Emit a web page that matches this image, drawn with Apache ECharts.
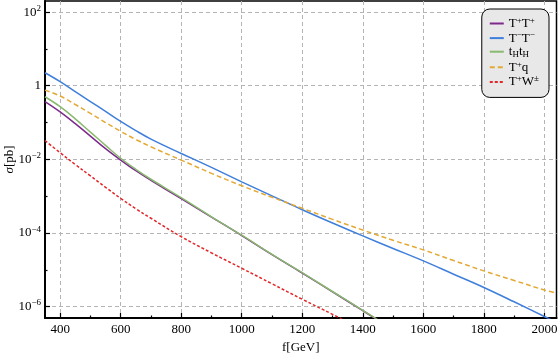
<!DOCTYPE html>
<html>
<head>
<meta charset="utf-8">
<script src="https://cdn.jsdelivr.net/npm/echarts@6/dist/echarts.min.js"></script>
<style>
html, body { margin: 0; padding: 0; background: #fff; }
#chart { width: 560px; height: 355px; }
</style>
</head>
<body>
<div id="chart"></div>
<script>
// masses [GeV]
var massFull = [350, 400, 450, 500, 550, 600, 650, 700, 800, 900, 1000, 1100, 1200, 1300, 1400, 1500, 1600, 1700, 1800, 1900, 2000, 2040];
var massPair = [350, 400, 450, 500, 550, 600, 650, 700, 800, 900, 1000, 1100, 1200, 1300, 1400, 1450];
var massW = [350, 400, 450, 500, 550, 600, 650, 700, 800, 900, 1000, 1100, 1200, 1300, 1350];

// cross sections [pb]
var sigPP = [0.372, 0.195, 0.0933, 0.0427, 0.0195, 0.00955, 0.0049, 0.00269, 8.51e-4, 2.69e-4, 8.51e-5, 2.57e-5, 8.13e-6, 2.51e-6, 7.76e-7, 4.27e-7];
var sigMM = [2.25, 1.29, 0.692, 0.372, 0.200, 0.107, 0.0603, 0.0355, 0.01445, 0.00603, 0.00245, 0.00102, 4.27e-4, 1.86e-4, 8.32e-5, 3.80e-5, 1.74e-5, 7.59e-6, 3.31e-6, 1.35e-6, 5.37e-7, 3.72e-7];
var sigTH = [0.501, 0.269, 0.126, 0.055, 0.024, 0.0107, 0.00537, 0.00288, 9.12e-4, 2.75e-4, 8.71e-5, 2.63e-5, 8.32e-6, 2.57e-6, 7.94e-7, 4.37e-7];
var sigTq = [0.759, 0.525, 0.309, 0.178, 0.100, 0.0575, 0.0347, 0.0219, 0.00955, 0.00417, 0.00191, 9.33e-4, 4.68e-4, 2.34e-4, 1.20e-4, 6.31e-5, 3.47e-5, 1.78e-5, 9.33e-6, 5.13e-6, 2.82e-6, 2.34e-6];
var sigTW = [0.0324, 0.0151, 0.00724, 0.00355, 0.00174, 8.71e-4, 4.57e-4, 2.51e-4, 7.94e-5, 2.88e-5, 1.10e-5, 4.17e-6, 1.58e-6, 6.17e-7, 3.80e-7];

var seriesNames = ['T+T+', 'T-T-', 'tHtH', 'T+q', 'T+W±'];
var legendLabels = [
    '{r|T}{sup|+}{r|T}{sup|+}',
    '{r|T}{sup|\u2212}{r|T}{sup|\u2212}',
    '{r|t}{sub|H}{r|t}{sub|H}',
    '{r|T}{sup|+}{r|q}',
    '{r|T}{sup|+}{r|W}{sup|\u00b1}'
];

var xTicks = [400, 600, 800, 1000, 1200, 1400, 1600, 1800, 2000];
var xMinorTicks = [500, 700, 900, 1100, 1300, 1500, 1700, 1900];
var yTicks = [1e2, 1, 1e-2, 1e-4, 1e-6];
var yMinorTicks = [1e1, 1e-1, 1e-3, 1e-5];

var FONT = 'Liberation Serif';

function pairs(xs, ys) {
    return xs.map(function(x, i) { return [x, ys[i]]; });
}

function powLabel(v) {
    var l = Math.log10(v);
    var e = Math.round(l);
    if (Math.abs(l - e) > 0.01 || e % 2 !== 0) return '';
    if (e === 0) return '{b|1}';
    return '{b|10}{s|' + String(e).replace('-', '\u2212') + '}';
}

var chart = echarts.init(document.getElementById('chart'));

var richSup = {
    r: { fontFamily: FONT, fontSize: 13, lineHeight: 15, color: '#000' },
    sup: { fontFamily: FONT, fontSize: 9, lineHeight: 9, verticalAlign: 'top', color: '#000' },
    sub: { fontFamily: FONT, fontSize: 9, lineHeight: 9, verticalAlign: 'bottom', color: '#000' }
};

function lineSeries(name, xs, ys, color, dash) {
    return {
        name: name,
        type: 'line',
        data: pairs(xs, ys),
        symbol: 'circle',
        showSymbol: false,
        smooth: 0.4,
        lineStyle: { color: color, width: 1.5, type: dash || 'solid' },
        itemStyle: { color: color }
    };
}

var option = {
    animation: false,
    grid: {
        left: 45, right: 3.5, top: 1, bottom: 37,
        outerBoundsMode: 'none',
        containLabel: false,
        show: true, borderColor: '#000', borderWidth: 1.5
    },
    legend: {
        orient: 'vertical',
        right: 11,
        top: 9,
        backgroundColor: '#e8e8e8',
        borderColor: '#000',
        borderWidth: 1,
        borderRadius: 8,
        padding: [7, 10, 9, 7],
        itemWidth: 14,
        itemHeight: 10,
        itemGap: 0.6,
        itemStyle: { opacity: 0 },
        data: seriesNames,
        formatter: function(name) { return legendLabels[seriesNames.indexOf(name)]; },
        textStyle: { fontFamily: FONT, fontSize: 13, color: '#000', rich: richSup }
    },
    xAxis: [{
        type: 'value',
        min: 350,
        max: 2040,
        splitNumber: 8,
        name: 'f[GeV]',
        nameLocation: 'middle',
        nameGap: 23,
        nameMoveOverlap: false,
        nameTextStyle: { fontFamily: FONT, fontSize: 13, color: '#000' },
        axisLine: { lineStyle: { color: '#000', width: 2 } },
        axisTick: { inside: true, length: 5, customValues: xTicks, lineStyle: { color: '#000', width: 1.2 } },
        axisLabel: {
            customValues: xTicks,
            margin: 5,
            fontFamily: FONT, fontSize: 13, color: '#000',
            formatter: function(v) { return v % 200 === 0 ? String(v) : ''; }
        },
        splitLine: { show: true, lineStyle: { color: '#b4b4b4', type: [4, 3], width: 1 } }
    }, {
        type: 'value',
        min: 350,
        max: 2040,
        position: 'bottom',
        axisLine: { show: false },
        axisTick: { inside: true, length: 2.5, customValues: xMinorTicks, lineStyle: { color: '#000', width: 1.2 } },
        axisLabel: { show: false },
        splitLine: { show: false }
    }],
    yAxis: [{
        type: 'log',
        logBase: 10,
        min: 4.9e-7,
        max: 200,
        name: '{i|\u03c3}{n|[pb]}',
        nameLocation: 'middle',
        nameGap: 29,
        nameRotate: 90,
        nameMoveOverlap: false,
        nameTextStyle: {
            rich: {
                i: { fontFamily: FONT, fontSize: 13, fontStyle: 'italic', color: '#000' },
                n: { fontFamily: FONT, fontSize: 13, color: '#000' }
            }
        },
        axisLine: { show: true, lineStyle: { color: '#000', width: 2 } },
        axisTick: { inside: true, length: 5, customValues: yTicks, lineStyle: { color: '#000', width: 1.2 } },
        axisLabel: {
            customValues: yTicks,
            margin: 4,
            formatter: powLabel,
            rich: {
                b: { fontFamily: FONT, fontSize: 13, lineHeight: 16, color: '#000' },
                s: { fontFamily: FONT, fontSize: 9, lineHeight: 9, verticalAlign: 'top', color: '#000' }
            }
        },
        splitLine: { show: true, lineStyle: { color: '#b4b4b4', type: [4, 3], width: 1 } }
    }, {
        type: 'log',
        logBase: 10,
        min: 4.9e-7,
        max: 200,
        position: 'left',
        axisLine: { show: false },
        axisTick: { inside: true, length: 2.5, customValues: yMinorTicks, lineStyle: { color: '#000', width: 1.2 } },
        axisLabel: { show: false },
        splitLine: { show: false }
    }],
    series: [
        lineSeries(seriesNames[0], massPair, sigPP, '#7d2a8c'),
        lineSeries(seriesNames[1], massFull, sigMM, '#3f7fdc'),
        lineSeries(seriesNames[2], massPair, sigTH, '#88b96e'),
        lineSeries(seriesNames[3], massFull, sigTq, '#e3a934', [5, 3]),
        lineSeries(seriesNames[4], massW, sigTW, '#e3262a', [3, 2])
    ]
};

chart.setOption(option);

window.addEventListener('resize', function() {
    chart.resize();
});
</script>
</body>
</html>
